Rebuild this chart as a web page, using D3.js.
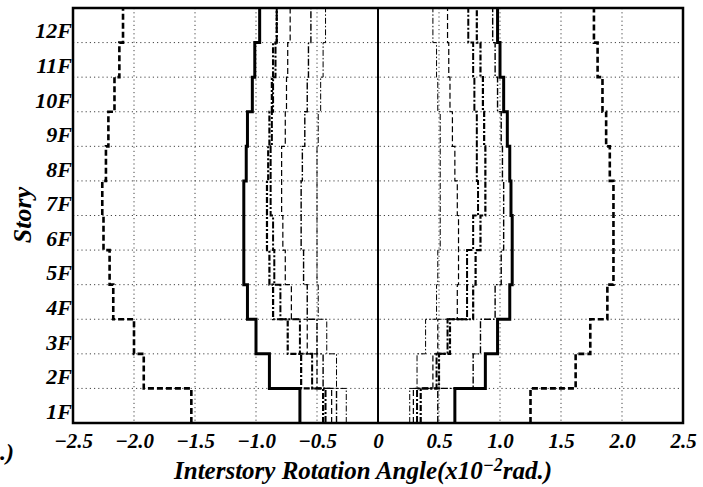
<!DOCTYPE html>
<html>
<head>
<meta charset="utf-8">
<script src="https://cdn.jsdelivr.net/npm/d3@7"></script>
<style>
  body { margin: 0; background: #fff; }
  svg text { font-family: 'Liberation Serif', 'Times New Roman', serif; font-weight: bold; font-style: italic; fill: #000; }
</style>
</head>
<body>
<svg id="chart" width="703" height="487"></svg>
<script>
// story labels, bottom to top
const stories = ['1F', '2F', '3F', '4F', '5F', '6F', '7F', '8F', '9F', '10F', '11F', '12F'];
const xTicks = [-2.5, -2, -1.5, -1, -0.5, 0, 0.5, 1, 1.5, 2, 2.5];
const xTickLabels = ['\u22122.5', '\u22122.0', '\u22121.5', '\u22121.0', '\u22120.5', '0', '0.5', '1.0', '1.5', '2.0', '2.5'];

// peak interstory rotation angle per story (1F..12F), x10^-2 rad
const solidNeg = [-0.64, -0.89, -1.00, -1.07, -1.10, -1.10, -1.10, -1.08, -1.07, -1.03, -1.01, -0.97];
const solidPos = [0.63, 0.88, 0.98, 1.08, 1.10, 1.10, 1.09, 1.08, 1.06, 1.03, 1.00, 0.98];
const dashNeg = [-1.53, -1.92, -2.00, -2.17, -2.20, -2.25, -2.26, -2.23, -2.21, -2.16, -2.12, -2.09];
const dashPos = [1.25, 1.62, 1.74, 1.88, 1.93, 1.93, 1.93, 1.90, 1.87, 1.84, 1.80, 1.77];
const aNeg = [-0.45, -0.63, -0.74, -0.86, -0.89, -0.91, -0.91, -0.90, -0.89, -0.87, -0.86, -0.83];
const aPos = [0.35, 0.50, 0.59, 0.78, 0.80, 0.84, 0.88, 0.88, 0.87, 0.86, 0.84, 0.81];
const bNeg = [-0.43, -0.54, -0.64, -0.80, -0.85, -0.86, -0.88, -0.88, -0.87, -0.86, -0.84, -0.83];
const bPos = [0.32, 0.48, 0.57, 0.73, 0.73, 0.78, 0.82, 0.81, 0.81, 0.79, 0.78, 0.74];
const cNeg = [-0.38, -0.50, -0.58, -0.71, -0.76, -0.78, -0.79, -0.79, -0.76, -0.75, -0.74, -0.72];
const cPos = [0.29, 0.45, 0.49, 0.65, 0.66, 0.66, 0.65, 0.63, 0.61, 0.59, 0.58, 0.57];
const dNeg = [-0.34, -0.45, -0.50, -0.58, -0.61, -0.63, -0.63, -0.62, -0.60, -0.58, -0.57, -0.55];
const dPos = [0.49, 0.78, 0.84, 0.96, 1.01, 1.03, 1.03, 1.02, 1.01, 0.98, 0.96, 0.94];
const eNeg = [-0.26, -0.34, -0.42, -0.49, -0.50, -0.50, -0.50, -0.50, -0.49, -0.47, -0.45, -0.43];
const ePos = [0.26, 0.32, 0.39, 0.48, 0.49, 0.51, 0.51, 0.51, 0.51, 0.49, 0.48, 0.45];

const margin = { top: 8, right: 20, bottom: 64, left: 73 };
const width = 703 - margin.left - margin.right;
const height = 487 - margin.top - margin.bottom;

const svg = d3.select('#chart');
const g = svg.append('g').attr('transform', `translate(${margin.left}, ${margin.top})`);

const x = d3.scaleLinear().domain([-2.5, 2.5]).range([0, width]);
const y = d3.scaleLinear().domain([0, 12]).range([height, 0]);

// dotted grid
g.append('g')
  .selectAll('line')
  .data([-2, -1.5, -1, -0.5, 0.5, 1, 1.5, 2])
  .join('line')
  .attr('x1', d => x(d)).attr('x2', d => x(d))
  .attr('y1', 0).attr('y2', height)
  .attr('stroke', '#444').attr('stroke-width', 1).attr('stroke-dasharray', '1.2,3');

g.append('g')
  .selectAll('line')
  .data(d3.range(1, 12))
  .join('line')
  .attr('x1', 0).attr('x2', width)
  .attr('y1', d => y(d)).attr('y2', d => y(d))
  .attr('stroke', '#444').attr('stroke-width', 1).attr('stroke-dasharray', '1.2,3');

// zero line
g.append('line')
  .attr('x1', x(0)).attr('x2', x(0))
  .attr('y1', 0).attr('y2', height)
  .attr('stroke', '#000').attr('stroke-width', 2);

// step profiles
const stepPoints = vals => vals.flatMap((v, i) => [[v, i], [v, i + 1]]);
const line = d3.line().x(d => x(d[0])).y(d => y(d[1]));

const series = [
  { neg: eNeg, pos: ePos, w: 1, dash: '6,2,1.5,2' },
  { neg: cNeg, pos: cPos, w: 1.2, dash: '6,3' },
  { neg: dNeg, pos: dPos, w: 1.4, dash: '7,2,1.5,2' },
  { neg: bNeg, pos: bPos, w: 2, dash: '7,2,2,2' },
  { neg: aNeg, pos: aPos, w: 2.2, dash: '6,2,2,2' },
  { neg: dashNeg, pos: dashPos, w: 2.6, dash: '6,3' },
  { neg: solidNeg, pos: solidPos, w: 3, dash: null }
];

series.forEach(s => {
  [s.neg, s.pos].forEach(vals => {
    g.append('path')
      .attr('d', line(stepPoints(vals)))
      .attr('fill', 'none')
      .attr('stroke', '#000')
      .attr('stroke-width', s.w)
      .attr('stroke-dasharray', s.dash);
  });
});

// frame
g.append('rect')
  .attr('width', width).attr('height', height)
  .attr('fill', 'none').attr('stroke', '#000').attr('stroke-width', 2.5);

// axes
const xAxis = d3.axisBottom(x)
  .tickValues(xTicks)
  .tickFormat((d, i) => xTickLabels[i])
  .tickSize(0)
  .tickPadding(10);

g.append('g')
  .attr('transform', `translate(0, ${height})`)
  .call(xAxis)
  .call(a => a.select('.domain').remove())
  .selectAll('text')
  .attr('font-size', 21);

const yAxis = d3.axisLeft(y)
  .tickValues(d3.range(12).map(i => i + 0.5))
  .tickFormat((d, i) => stories[i])
  .tickSize(0)
  .tickPadding(1);

g.append('g')
  .call(yAxis)
  .call(a => a.select('.domain').remove())
  .selectAll('text')
  .attr('font-size', 22)
  .attr('dy', '0.57em');

svg.selectAll('g[font-family]').attr('font-family', null);

// titles
const title = svg.append('text')
  .attr('x', 174)
  .attr('y', 479)
  .attr('font-size', 25);
title.append('tspan').text('Interstory Rotation Angle(x10');
title.append('tspan').attr('dy', -8).attr('font-size', 18).text('\u22122');
title.append('tspan').attr('dy', 8).text('rad.)');

svg.append('text')
  .attr('transform', 'translate(31, 215) rotate(-90)')
  .attr('text-anchor', 'middle')
  .attr('font-size', 26)
  .text('Story');

svg.append('text')
  .attr('x', 0)
  .attr('y', 460)
  .attr('font-size', 24)
  .text('.)');
</script>
</body>
</html>
